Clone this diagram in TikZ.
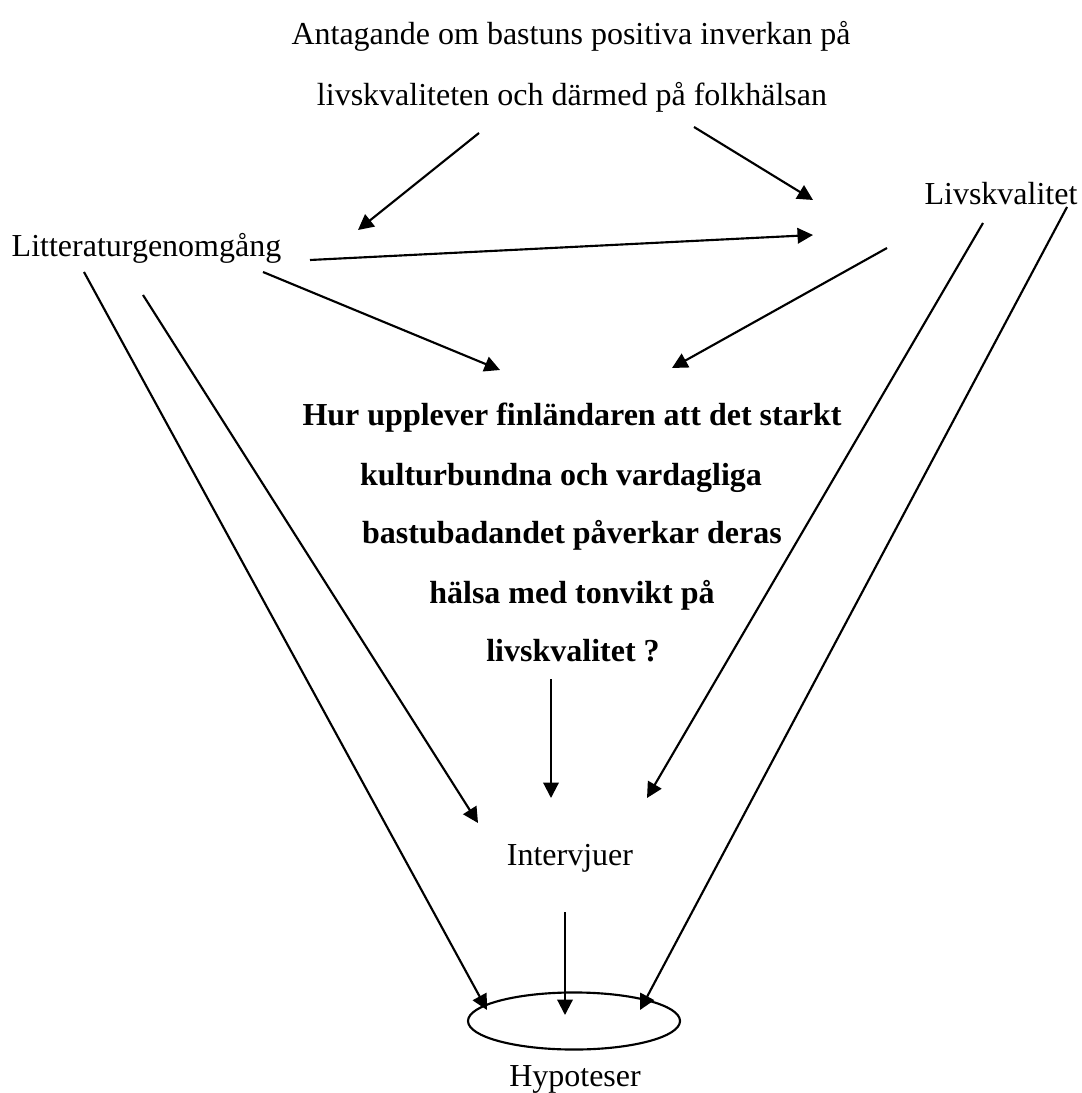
\documentclass[tikz,border=0pt]{standalone}
\usepackage{fontspec}
\setmainfont{Liberation Serif}
\usetikzlibrary{arrows.meta,shapes.geometric}
\begin{document}
\begin{tikzpicture}[x=0.375pt,y=-0.375pt,
  lbl/.style={anchor=base, inner sep=0pt, font=\fontsize{12}{14}\selectfont},
  qlbl/.style={anchor=base, inner sep=0pt, font=\fontsize{12}{14}\selectfont\bfseries},
  conn/.style={line width=0.8pt, -{Triangle[length=5.8pt,width=5.8pt]}},
  ring/.style={draw, ellipse, line width=0.8pt, minimum width=79.5pt, minimum height=21.4pt, inner sep=0pt}]
\useasboundingbox (0,0) rectangle (1082,1093);
% texts
\node[lbl] (t1) at (571,45) {Antagande om bastuns positiva inverkan på};
\node[lbl] (t2) at (572,106) {livskvaliteten och därmed på folkhälsan};
\node[lbl] (lit) at (146.5,257) {Litteraturgenomgång};
\node[lbl] (liv) at (1001,205) {Livskvalitet};
\node[qlbl] (q1) at (572,426) {Hur upplever finländaren att det starkt};
\node[qlbl] (q2) at (561,485) {kulturbundna och vardagliga};
\node[qlbl] (q3) at (572,544) {bastubadandet påverkar deras};
\node[qlbl] (q4) at (572,603) {hälsa med tonvikt på};
\node[qlbl] (q5) at (573,661) {livskvalitet ?};
\node[lbl] (int) at (570,865) {Intervjuer};
\node[ring] (ell) at (574,1021) {};
\node[lbl] (hyp) at (575,1086) {Hypoteser};
% connector end points
\coordinate (a1s) at (479,133);  \coordinate (a1e) at (358,230);
\coordinate (a2s) at (694,127);  \coordinate (a2e) at (813,200);
\coordinate (a3s) at (310,260);  \coordinate (a3e) at (813,235);
\coordinate (a4s) at (263,272);  \coordinate (a4e) at (500,370);
\coordinate (a5s) at (887,248);  \coordinate (a5e) at (672,368);
\coordinate (a6s) at (983,223);  \coordinate (a6e) at (647,798);
\coordinate (a7s) at (1067,207); \coordinate (a7e) at (640,1010);
\coordinate (a8s) at (143,295);  \coordinate (a8e) at (478,823);
\coordinate (a9s) at (551,679);  \coordinate (a9e) at (551,798);
\coordinate (a10s) at (565,912); \coordinate (a10e) at (565,1015);
\coordinate (a11s) at (84,272);  \coordinate (a11e) at (487,1010);
% connectors
\draw[conn] (a1s) -- (a1e);
\draw[conn] (a2s) -- (a2e);
\draw[conn] (a3s) -- (a3e);
\draw[conn] (a4s) -- (a4e);
\draw[conn] (a5s) -- (a5e);
\draw[conn] (a6s) -- (a6e);
\draw[conn] (a7s) -- (a7e);
\draw[conn] (a8s) -- (a8e);
\draw[conn] (a9s) -- (a9e);
\draw[conn] (a10s) -- (a10e);
\draw[conn] (a11s) -- (a11e);
\end{tikzpicture}
\end{document}
